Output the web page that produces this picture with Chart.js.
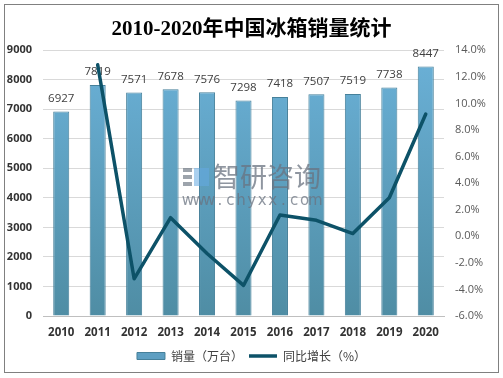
<!DOCTYPE html>
<html><head><meta charset="utf-8">
<script src="https://cdn.jsdelivr.net/npm/chart.js@4/dist/chart.umd.min.js"></script>
<style>html,body{margin:0;padding:0;background:#fff;}#wrap{width:503px;height:378px;position:relative;}</style>
</head><body><div id="wrap"><canvas id="c" width="503" height="378"></canvas></div>
<script>
const categories = ['2010','2011','2012','2013','2014','2015','2016','2017','2018','2019','2020'];
const salesValues = [6927,7819,7571,7678,7576,7298,7418,7507,7519,7738,8447];
const growthValues = [null,12.9,-3.2,1.4,-1.3,-3.7,1.6,1.2,0.2,2.9,9.2];
const leftTicks = [0,1000,2000,3000,4000,5000,6000,7000,8000,9000];
const rightTicks = [-6,-4,-2,0,2,4,6,8,10,12,14];
const titleText = '2010-2020年中国冰箱销量统计';
const seriesNames = ['销量（万台）','同比增长（%）'];
const watermarkName = '智研咨询';
const watermarkUrl = 'www.chyxx.com';

function barGradient(ctx){
  const chart = ctx.chart;
  const el = ctx.element;
  const area = chart.chartArea;
  if (!area) return '#5e9fc2';
  let top = area.top, bottom = area.bottom;
  if (el && el.y !== undefined && !isNaN(el.y)) { top = el.y; bottom = el.base; }
  const g = chart.ctx.createLinearGradient(0, top, 0, bottom);
  g.addColorStop(0, '#6bb1d8');
  g.addColorStop(1, '#4f8da4');
  return g;
}

const framePlugin = {
  id: 'frame',
  beforeDraw(chart){
    const c = chart.ctx;
    c.save();
    c.fillStyle = '#fff';
    c.fillRect(0,0,chart.width,chart.height);
    c.strokeStyle = '#808080';
    c.lineWidth = 1;
    c.strokeRect(4.5,4.5,494,368);
    c.restore();
  },
  afterDatasetDraw(chart, args){
    if (args.index !== 0) return;
    const meta = chart.getDatasetMeta(0);
    const c = chart.ctx;
    c.save();
    // watermark (over bars, under line)
    c.fillStyle = 'rgba(105,115,128,0.75)';
    c.font = '27px "Noto Sans CJK SC"';
    c.textBaseline = 'middle';
    c.textAlign = 'left';
    c.fillText(watermarkName, 213, 177);
    c.font = '15px "DejaVu Sans"';
    c.textAlign = 'center';
    const chars = watermarkUrl.split('');
    chars.forEach((ch, i) => c.fillText(ch, 188 + i * 10.6, 201));
    c.fillStyle = 'rgba(105,115,128,0.65)';
    c.fillRect(183,168,9,4);
    c.fillRect(183,175,9,4);
    c.fillRect(183,182,9,4);
    c.fillStyle = 'rgba(100,170,225,0.55)';
    c.fillRect(194,168,15,18);
    // data labels
    c.fillStyle = '#404040';
    c.font = '11.5px "Open Sans", "DejaVu Sans", sans-serif';
    c.textAlign = 'center';
    c.textBaseline = 'middle';
    meta.data.forEach((bar, i) => {
      c.fillText(String(salesValues[i]), bar.x, bar.y - 13);
    });
    c.restore();
  }
};

new Chart(document.getElementById('c'), {
  data: {
    labels: categories,
    datasets: [
      {
        type: 'bar',
        label: seriesNames[0],
        data: salesValues,
        yAxisID: 'y',
        order: 1,
        backgroundColor: barGradient,
        borderColor: '#46809a',
        borderWidth: 1,
        barPercentage: 0.88,
        categoryPercentage: 0.5
      },
      {
        type: 'line',
        label: seriesNames[1],
        data: growthValues,
        yAxisID: 'y1',
        order: 0,
        borderColor: '#0d5268',
        backgroundColor: '#0d5268',
        borderWidth: 3.5,
        borderCapStyle: 'round',
        borderJoinStyle: 'round',
        pointRadius: 0,
        tension: 0,
        spanGaps: false
      }
    ]
  },
  options: {
    responsive: false,
    animation: false,
    devicePixelRatio: 1,
    layout: { padding: { left: 0, right: 0, top: 0, bottom: 6 } },
    plugins: {
      tooltip: { enabled: false },
      title: {
        display: true,
        text: titleText,
        color: '#000',
        font: { family: '"Liberation Serif", "Noto Sans CJK SC", serif', size: 21, weight: 'bold', lineHeight: 1.2 },
        padding: { top: 17, bottom: 8 }
      },
      legend: {
        position: 'bottom',
        labels: {
          usePointStyle: true,
          pointStyleWidth: 28,
          boxHeight: 7,
          padding: 6,
          color: '#404040',
          font: { family: '"Noto Sans CJK SC", sans-serif', size: 12 },
          sort: (a, b) => a.datasetIndex - b.datasetIndex,
          generateLabels(chart){
            const items = Chart.defaults.plugins.legend.labels.generateLabels(chart);
            items.forEach(it => {
              if (it.datasetIndex === 0) { it.pointStyle = 'rect'; it.fillStyle = '#5e9fc2'; it.strokeStyle = '#46809a'; it.lineWidth = 1; }
              else { it.pointStyle = 'line'; it.lineWidth = 3.5; it.strokeStyle = '#0d5268'; }
            });
            return items;
          }
        }
      }
    },
    scales: {
      x: {
        grid: { display: false, drawTicks: false },
        border: { display: true, color: '#bfbfbf' },
        ticks: { color: '#333', padding: 10, font: { family: '"Open Sans", "DejaVu Sans", sans-serif', size: 11.5, weight: 'bold' } },
        afterFit(s){ s.height = 28; }
      },
      y: {
        position: 'left',
        min: 0, max: 9000,
        afterBuildTicks(s){ s.ticks = leftTicks.map(v => ({ value: v })); },
        grid: { color: '#d9d9d9', drawTicks: false },
        border: { display: false },
        ticks: { color: '#333', padding: 11, font: { family: '"Open Sans", "DejaVu Sans", sans-serif', size: 11, weight: 'bold' }, callback: v => String(v) },
        afterFit(s){ s.width = 43; }
      },
      y1: {
        position: 'right',
        min: -6, max: 14,
        afterBuildTicks(s){ s.ticks = rightTicks.map(v => ({ value: v })); },
        grid: { display: false, drawTicks: false },
        border: { display: false },
        ticks: { color: '#595959', padding: 11, font: { family: '"Open Sans", "DejaVu Sans", sans-serif', size: 11 }, callback: v => v.toFixed(1) + '%' },
        afterFit(s){ s.width = 59; }
      }
    }
  },
  plugins: [framePlugin]
});
</script></body></html>
